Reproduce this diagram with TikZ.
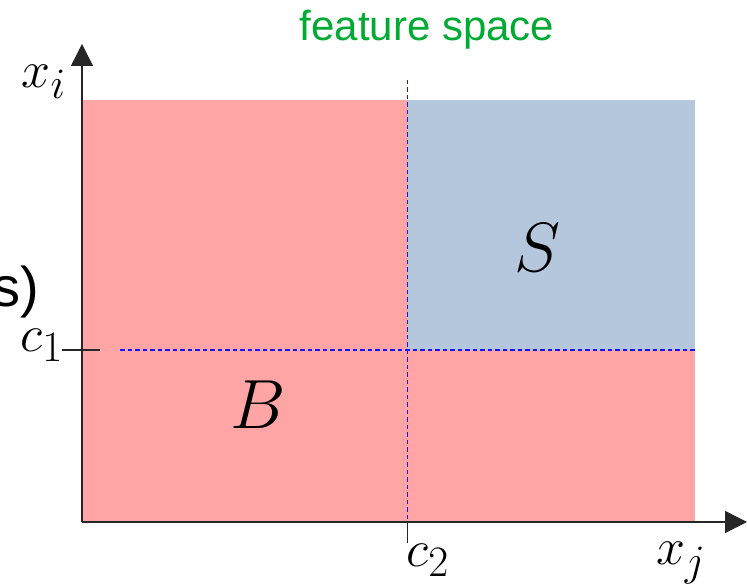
\documentclass[tikz,border=0pt]{standalone}
\usepackage{fontspec}
\newfontfamily\labelsans{Liberation Sans}
\usetikzlibrary{arrows.meta}
\definecolor{pinkreg}{RGB}{255,165,165}
\definecolor{bluereg}{RGB}{181,199,221}
\definecolor{titlegreen}{RGB}{0,170,51}
\definecolor{splitblue}{RGB}{20,20,255}
\tikzset{
  axisline/.style={line width=1.3pt, black!85, -{Triangle[length=22pt,width=22pt]}},
  tickline/.style={line width=1.1pt, black!85},
  splitline/.style={splitblue, line width=1.4pt, dash pattern=on 4.5pt off 3pt},
  vdash/.style={fill=splitblue, draw=none},
  mathlabel/.style={inner sep=0pt, font=\Huge, scale=2.09},
  biglabel/.style={inner sep=0pt, font=\Huge, scale=2.8},
  sanslabel/.style={inner sep=0pt, font=\labelsans\fontsize{42}{48}\selectfont},
  cutlabel/.style={inner sep=0pt, font=\labelsans\fontsize{56}{64}\selectfont},
}
\begin{document}
\begin{tikzpicture}[x=1pt,y=1pt]
\useasboundingbox (0,0) rectangle (747,585);
% regions
\fill[pinkreg] (82,63) rectangle (695,485);
\fill[bluereg] (407.5,235) rectangle (695,485);
% coordinates
\coordinate (O) at (82,63);
\coordinate (ytop) at (82,541);
\coordinate (xend) at (747,63);
\coordinate (hleft) at (120,235);
\coordinate (hright) at (695,235);
\coordinate (c1a) at (62,235);
\coordinate (c1b) at (100,235);
\coordinate (c2a) at (407.5,63);
\coordinate (c2b) at (407.5,42);
% ticks first, then split lines on top
\draw[tickline] (c1a) -- (c1b);
\draw[tickline] (c2a) -- (c2b);
\foreach \k in {0,...,58}{
  \fill[vdash] (406.7,{505-7.5*\k}) rectangle (408.3,{500.5-7.5*\k});
}
\draw[splitline] (hleft) -- (hright);
% axes
\draw[axisline] (O) -- (ytop);
\draw[axisline] (O) -- (xend);
% labels
\node[mathlabel] (xi) at (44,503) {$x_i$};
\node[mathlabel] (c1) at (42,240) {$c_1$};
\node[mathlabel] (c2) at (428,25) {$c_2$};
\node[mathlabel] (xj) at (681,22) {$x_j$};
\node[biglabel] (S) at (537,337) {$S$};
\node[biglabel] (B) at (258,180) {$B$};
\node[sanslabel, text=titlegreen] (title) at (427,555) {feature space};
\node[cutlabel, anchor=base east] (cut) at (39,278) {s)};
\end{tikzpicture}
\end{document}
